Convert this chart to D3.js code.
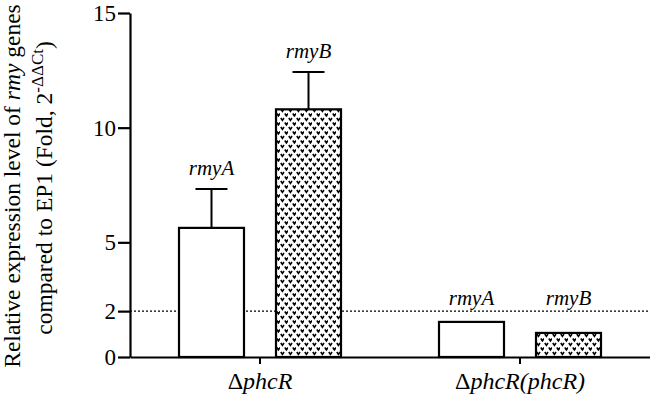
<!DOCTYPE html>
<html><head><meta charset="utf-8">
<script src="https://cdn.jsdelivr.net/npm/d3@7"></script>
<style>html,body{margin:0;padding:0;background:#fff;}</style>
</head><body><svg id="c" width="650" height="399"></svg>
<script>
const groups = ["g1", "g2"];
const groupLabels = [["Δ", "phcR", ""], ["Δ", "phcR(phcR)", ""]];
const series = ["rmyA", "rmyB"];
const means = [[5.63, 10.8], [1.53, 1.05]];
const errors = [[1.7, 1.63], [0, 0]];
const yTicks = [0, 2, 5, 10, 15];
const refLine = 2;

const FONT = "'Liberation Serif', Tinos, 'Times New Roman', Times, serif";
const svg = d3.select("#c");
const W = 650, H = 399;
const m = {left: 130, right: 0, top: 13, bottom: 42};
const y = d3.scaleLinear().domain([0, 15]).range([H - m.bottom, m.top]);
const x0 = d3.scaleBand().domain(groups).range([m.left, W - m.right]).padding(0);
const x1 = d3.scaleBand().domain(series).range([-81, 81]).paddingInner(0.33).paddingOuter(0);

const defs = svg.append("defs");
const pat = defs.append("pattern").attr("id", "dots").attr("patternUnits", "userSpaceOnUse")
  .attr("width", 8).attr("height", 9);
pat.append("rect").attr("width", 8).attr("height", 9).attr("fill", "#fff");
[[0.8, 1], [4.8, 5.5]].forEach(([px, py]) => {
  pat.append("path").attr("d", `M${px},${py} l1.6,2.4 l1.6,-2.4`).attr("fill", "none")
    .attr("stroke", "#000").attr("stroke-width", 1.6);
});

svg.append("line").attr("x1", m.left).attr("x2", W).attr("y1", y(refLine)).attr("y2", y(refLine))
  .attr("stroke", "#000").attr("stroke-width", 1.3).attr("stroke-dasharray", "2,2");

groups.forEach((g, gi) => {
  const gx = x0(g) + x0.bandwidth() / 2;
  const gg = svg.append("g");
  series.forEach((s, si) => {
    const v = means[gi][si], e = errors[gi][si];
    const bx = gx + x1(s), bw = x1.bandwidth();
    gg.append("rect").attr("x", bx).attr("y", y(v)).attr("width", bw).attr("height", y(0) - y(v))
      .attr("fill", si === 0 ? "#fff" : "url(#dots)").attr("stroke", "#000").attr("stroke-width", 2.2);
    const cx = bx + bw / 2;
    if (e > 0) {
      gg.append("line").attr("x1", cx).attr("x2", cx).attr("y1", y(v)).attr("y2", y(v + e))
        .attr("stroke", "#000").attr("stroke-width", 2);
      gg.append("line").attr("x1", cx - 16).attr("x2", cx + 16).attr("y1", y(v + e)).attr("y2", y(v + e))
        .attr("stroke", "#000").attr("stroke-width", 2);
    }
    const top = Math.min(y(v + e), y(refLine));
    gg.append("text").attr("x", cx).attr("y", top - (e > 0 ? 14 : 6)).attr("text-anchor", "middle")
      .attr("font-size", 21).attr("font-style", "italic").text(s);
  });
});

const yAxis = d3.axisLeft(y).tickValues(yTicks).tickSize(12).tickPadding(2).tickSizeOuter(0).tickFormat(d3.format("d"));
const ya = svg.append("g").attr("transform", `translate(${m.left},0)`).call(yAxis);
ya.select(".domain").attr("stroke-width", 2.2);
ya.selectAll(".tick line").attr("stroke-width", 2.2);
ya.selectAll(".tick text").attr("font-size", 23).attr("fill", "#000");

const xAxis = d3.axisBottom(x0).tickSize(7).tickSizeOuter(0).tickFormat(() => "");
const xa = svg.append("g").attr("transform", `translate(0,${y(0)})`).call(xAxis);
xa.select(".domain").attr("stroke-width", 2.2);
xa.selectAll(".tick line").attr("stroke-width", 2);
xa.selectAll(".tick").each(function(d, i) {
  const t = d3.select(this).append("text").attr("y", 32).attr("fill", "#000").attr("font-size", 24)
    .attr("text-anchor", "middle");
  t.append("tspan").text(groupLabels[i][0]);
  t.append("tspan").attr("font-style", "italic").text(groupLabels[i][1]);
});

const t1 = svg.append("text").attr("transform", "translate(20,186) rotate(-90)").attr("text-anchor", "middle")
  .attr("font-size", 23.5);
t1.append("tspan").text("Relative expression level of ");
t1.append("tspan").attr("font-style", "italic").text("rmy");
t1.append("tspan").text(" genes");
const t2 = svg.append("text").attr("transform", "translate(52,188) rotate(-90)").attr("text-anchor", "middle")
  .attr("font-size", 23.5);
t2.append("tspan").text("compared to EP1 (Fold, 2");
t2.append("tspan").attr("font-size", 17).attr("dy", -9).text("-ΔΔCt");
t2.append("tspan").attr("dy", 9).text(")");

svg.selectAll("g").attr("font-family", null);
svg.selectAll("text").style("font-family", FONT);
</script></body></html>
